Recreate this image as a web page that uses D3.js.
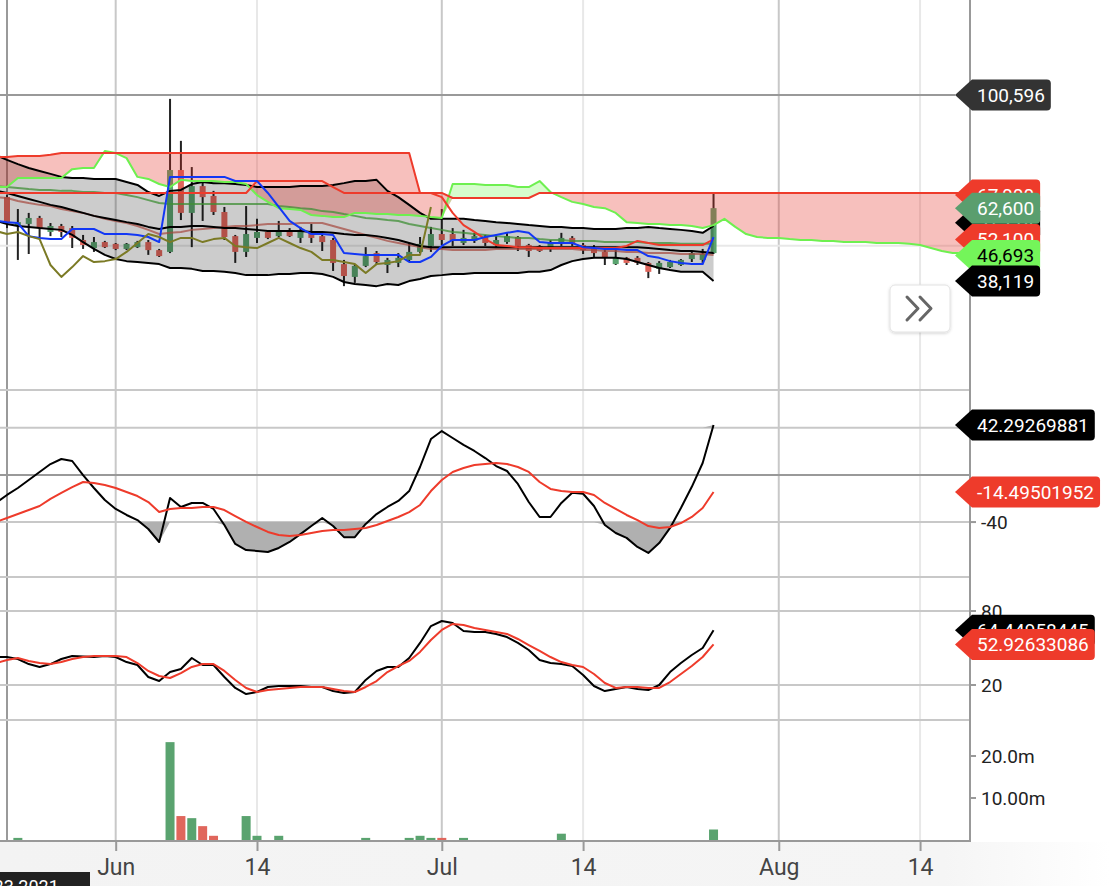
<!DOCTYPE html>
<html><head><meta charset="utf-8">
<script src="https://cdn.jsdelivr.net/npm/d3@7"></script>
<style>
body{margin:0;background:#fff;overflow:hidden}
svg{display:block;font-family:Roboto,"Noto Sans",sans-serif}
</style></head>
<body><svg id="c" width="1110" height="886"></svg>
<script>
// ---------- DATA ----------
const indicatorStart = new Date(2021, 4, 21);   // first day of indicator series
const candleStart = new Date(2021, 4, 22);      // first candle
const opens  = [66300,56600,57300,59300,54600,56600,55900,51900,49200,51200,50600,48900,49500,51200,48500,47900,75400,61000,70000,66700,61300,53200,47900,52600,54600,53200,54900,52600,54300,53200,51900,43800,39500,43200,47500,43500,44200,45200,47900,49900,53900,53900,50900,51600,52900,50200,51200,52900,50200,49900,49500,50600,52600,50200,49500,47900,43800,45900,45900,44200,42200,42800,43500,45500,45200,47500];
const highs  = [67000,62300,61000,60000,57600,57300,56600,53600,52900,51600,50900,50900,51600,51900,48900,99300,85200,76400,71700,68400,63000,53600,63300,59000,54900,58300,55900,56300,57300,53900,52600,45200,43800,49500,48200,45900,47500,50900,52900,56300,62300,55900,55300,54300,53600,53200,54300,53200,50600,50200,51900,54300,53200,50900,50200,48500,48500,46200,46500,44500,44800,45200,45500,48200,48900,67400];
const lows   = [55900,45200,47200,52200,53200,52900,49200,48900,47900,49200,48500,48500,49200,46900,46200,47500,58600,49500,58300,60300,51900,44200,46200,50900,52200,52900,52900,50900,50900,48200,41500,36400,37500,42800,43800,40800,42800,44800,47500,47900,50200,49900,50200,50900,49900,49500,50600,48200,46200,47900,47900,49900,49900,47200,46200,43500,43500,43500,43500,39100,40500,42500,43200,44500,44200,47200];
const closes = [57600,57900,59300,55900,56600,54600,52600,50200,51200,49500,48900,50600,51200,48500,46500,75400,61000,70000,66300,61300,52900,47900,53900,54600,52600,54900,53200,54600,52600,51200,44200,39800,43200,46500,44500,45200,45900,47900,50600,53900,51900,51900,52600,53200,50900,51900,53200,49900,48200,48200,51200,52600,50600,48500,47500,45900,45900,44200,44200,41200,44200,44500,45200,47500,47200,62600];
const volumesM = [0,0.5,0,0,0,0,0,0,0,0,0,0,0,0,0,23.3,5.7,5.2,3.3,1.0,0,0,5.7,1.0,0,1.0,0,0,0,0,0,0,0,0.5,0,0,0,0.5,1.0,0.5,0.5,0,0.5,0,0,0,0,0,0,0,0,1.5,0,0,0,0,0,0,0,0,0,0,0,0,0,2.5];

const bbUpper = [80400,78800,77400,76100,75100,74100,73100,72700,72700,72400,72400,72400,71400,70400,68000,66700,68400,68700,70700,71400,71000,71000,70700,70400,69700,69700,69700,69700,70000,70000,70000,70400,71000,71700,71700,72100,68400,66300,63700,61000,59000,59000,59000,59000,58600,58300,57900,57600,57300,56900,56600,56300,56300,55900,55900,55600,55600,55600,55900,55900,56300,55900,55600,55300,54900,54300,56600];
const bbMiddle = [68400,67700,66700,65700,64700,63700,63000,62000,61000,60000,59300,58600,57900,57300,56300,55600,56300,56300,56600,56600,56300,55900,55900,55600,55300,54900,54900,54900,54900,54600,54600,54300,53900,53600,53600,53200,52600,51900,50900,49900,49500,49500,49500,49500,49500,49500,49500,49500,49500,49500,49500,49500,49500,49500,49500,49500,49500,49500,49500,49500,49200,48900,48500,48200,48200,47900,47500];
const bbLower = [58300,57300,56600,56300,55900,55600,55300,53600,51200,48900,46900,45500,44800,44500,44200,43800,42500,42500,42200,41500,41500,41200,40800,40100,40100,40100,40500,40500,40800,40800,40500,39500,37800,37100,36800,36400,37100,36800,38100,38800,39800,40100,40500,40500,40800,40800,40800,40800,40800,41200,41200,41800,43500,44800,45500,45900,45900,45900,45500,44500,43500,42500,41800,41200,41200,41200,38119];
const tenkan = [58300,57900,57600,53200,52600,52200,52200,55600,55600,55600,53900,53900,53900,53600,52900,51200,73100,73100,73100,73100,73100,73100,71700,71700,71700,67700,63000,58300,55900,53900,53900,53600,47500,47200,46900,46900,46900,46900,44500,44500,46200,49900,51900,51900,51900,52900,53600,54300,54900,54300,51200,50900,50900,50900,49500,49200,48900,48900,48500,48500,46500,45900,44800,44200,43800,43800,52900];
const kijun = [67700,67700,67700,67700,67700,67700,67700,67700,67700,67700,67700,67700,67700,67700,67700,67700,67700,67700,67700,67700,67700,67700,67700,67700,71700,71700,71700,71700,71700,71700,71700,69700,67700,67700,67700,67700,67700,67700,67700,67700,67700,66300,61000,56900,54600,52200,50200,49900,49500,49500,49200,49200,49200,49200,49200,49200,49200,49200,49900,51600,50900,50200,50200,50200,50200,50200,52100];
const senkouA = [69700,69700,72700,72700,72700,72700,72700,75700,76100,76100,81800,81100,79400,73100,72400,70700,69700,72100,71700,71700,71700,71400,71400,70700,67000,64700,62600,62300,62000,60300,60000,59600,59600,61000,61000,60600,60600,60300,60300,60000,59600,59300,70700,70700,70700,70400,70400,70400,69700,69700,71700,68000,66300,64700,64000,63000,62600,61000,57900,57600,57300,57300,56900,56900,56600,55900,56900,59000,56300,53900,52900,52600,52600,52200,51900,51900,51600,51600,51200,51200,51200,50900,50900,50900,50600,50200,49200,48200,47500,47500,47500,47500,47500];
const senkouB = [79800,79800,80100,80100,80100,80500,81100,81100,81100,81100,81100,81100,81100,81100,81100,81100,81100,81100,81100,81100,81100,81100,81100,81100,81100,81100,81100,81100,81100,81100,81100,81100,81100,81100,81100,81100,81100,81100,81100,67700,67700,67700,66000,66000,66000,66000,66000,66000,66000,66000,67700,67700,67700,67700,67700,67700,67700,67700,67700,67700,67700,67700,67700,67700,67700,67700,67700,67700,67700,67700,67700,67700,67700,67700,67700,67700,67700,67700,67700,67700,67700,67700,67700,67700,67700,67700,67700,67700,67700,67700,67700,67700,67700];
const chikou = [54900,53900,54600,53200,52200,43500,39500,42800,46500,44500,44800,45500,47900,50900,53900,52900,51200,52600,52600,51200,52200,52600,49900,49500,49200,50900,52600,50900,49200,47900,45200,45200,44500,43800,40800,43800,44200,44800,46900,46900,63000];
const maGreen = [70000,69700,69400,69000,68700,68700,68400,68400,68000,68000,67700,67700,67000,66300,65300,64300,64000,64000,64000,64000,64000,64000,64000,64000,64000,64000,63300,63000,62600,62300,61600,61300,60600,60000,59300,59000,58600,58300,57300,56600,55900,55300,54600,54300,53900,53600,53200,52900,52600,52600,52200,51900,51900,51600,51600,51600,51200,51200,51200,51200,50900,50900,50900,50600,50600,50600,50600];
const maBrown = [66300,66000,65000,64300,63700,63300,62300,61600,61000,60000,59000,58300,57600,56600,55300,53900,54300,54600,55300,55600,55900,56300,56600,56600,56900,57300,57300,57300,57600,57600,57600,56600,55600,54600,53600,52600,51600,50900,50200,49500,48900,48900,48500,48500,48500,48500,48900,48900,48900,48900,48900,48900,48900,48900,48500,48500,48200,48200,47900,47900,47500,47500,47500,47200,47200,47200,46900];

const cci = [-23.8,-17.0,-11.1,-4.3,2.5,9.2,13.5,11.8,-0.1,-11.1,-21.3,-28.9,-34.0,-38.3,-45.9,-56.9,-19.6,-27.2,-23.8,-23.8,-28.9,-42.5,-58.6,-63.7,-64.5,-65.4,-62.0,-56.9,-50.2,-43.4,-36.6,-43.4,-52.8,-52.8,-41.6,-33.2,-27.2,-22.1,-13.7,6.7,30.4,37.2,31.3,25.4,20.3,14.3,7.5,3.3,-7.7,-23.0,-35.7,-35.7,-23.8,-15.2,-16.0,-26.4,-42.5,-49.3,-53.4,-61.1,-66.2,-57.8,-45.0,-28.1,-10.1,10.1,42.29269881];
const cciSignal = [-39.9,-36.6,-33.2,-29.8,-26.4,-20.4,-15.3,-10.3,-6.0,-6.9,-8.6,-11.1,-14.5,-17.9,-23.0,-31.5,-28.9,-28.1,-28.1,-27.2,-27.2,-29.8,-34.9,-39.9,-44.2,-48.4,-51.0,-51.8,-51.0,-49.3,-47.6,-46.7,-46.7,-45.9,-45.0,-42.5,-39.1,-35.7,-31.5,-25.5,-13.7,-4.3,2.5,5.9,8.4,9.2,10.1,9.2,6.7,2.5,-6.0,-11.9,-13.7,-14.5,-14.5,-17.0,-23.8,-28.9,-34.0,-38.3,-43.4,-45.0,-44.2,-40.8,-35.7,-28.1,-14.49501952];
const stochK = [42.7,42.7,41.1,37.0,34.6,37.0,41.1,43.5,43.1,42.7,43.5,42.7,38.6,36.2,26.5,23.2,30.5,33.0,41.9,36.2,36.2,26.5,17.6,12.7,14.3,18.4,19.2,19.2,19.2,18.4,18.4,15.1,13.5,14.3,24.1,31.4,34.6,34.6,41.9,54.1,67.8,71.9,70.3,63.8,63.0,63.0,61.4,58.9,54.1,48.4,40.3,37.8,37.0,35.4,28.1,19.2,15.1,16.8,18.4,16.8,15.9,20.0,30.5,37.8,44.3,50.0,64.44958445];
const stochD = [37.8,40.3,41.9,39.5,37.8,37.0,38.6,41.1,42.7,43.5,43.5,43.5,42.7,37.8,31.4,27.3,25.7,29.7,34.6,37.0,37.0,31.4,24.1,17.6,14.3,15.9,16.8,17.6,18.4,18.4,18.4,16.8,15.1,14.3,18.4,23.2,30.5,35.4,39.5,46.8,56.5,64.6,69.5,68.6,66.2,64.6,63.0,61.4,57.3,52.4,47.6,42.7,38.6,36.2,34.6,28.9,21.6,17.6,18.4,18.4,17.6,17.6,22.4,28.9,35.4,42.7,52.92633086];

const xTickDates = [new Date(2021,5,1), new Date(2021,5,14), new Date(2021,6,1), new Date(2021,6,14), new Date(2021,7,1), new Date(2021,7,14)];
const xTickLabels = ["Jun","14","Jul","14","Aug","14"];
const cciTicks = [-40];
const stochTicks = [80, 20];
const volTicks = [20, 10];
const volTickLabels = ["20.0m","10.00m"];
const priceTags = [
  {v:100596, text:"100,596", fill:"#333333", color:"#fff"},
  {v:67000,  text:"67,000",  fill:"#ee3b2b", color:"#fff"},
  {v:57700,  text:"57,714",  fill:"#000000", color:"#fff"},
  {v:62600,  text:"62,600",  fill:"#5a9e6e", color:"#fff"},
  {v:52100,  text:"52,100",  fill:"#ee3b2b", color:"#fff"},
  {v:46693,  text:"46,693",  fill:"#74f55a", color:"#000"},
  {v:38119,  text:"38,119",  fill:"#000000", color:"#fff"}
];
const cciTags = [
  {v:42.29269881, text:"42.29269881", fill:"#000", color:"#fff"},
  {v:-14.49501952, text:"-14.49501952", fill:"#ee3b2b", color:"#fff"}
];
const stochTags = [
  {v:64.44958445, text:"64.44958445", fill:"#000", color:"#fff"},
  {v:52.92633086, text:"52.92633086", fill:"#ee3b2b", color:"#fff"}
];
const crosshairDate = "May 23 2021";

// ---------- SCALES ----------
const R = 970;
const x = d3.scaleTime().domain([new Date(2021,4,21), new Date(2021,7,21)]).range([-3.88, 996.16]);
const yP = d3.scaleLinear().domain([0, 100000]).range([394.5, 96.8]);
const yC = d3.scaleLinear().domain([-40, 40]).range([522.06, 427.74]);
const yS = d3.scaleLinear().domain([20, 80]).range([685, 611]);
const yV = d3.scaleLinear().domain([0, 10]).range([840, 798]);
const xi = k => x(d3.timeDay.offset(indicatorStart, k));
const xc = k => x(d3.timeDay.offset(candleStart, k));

const svg = d3.select("#c");
const defs = svg.append("defs");
function clip(id, y0, y1){ defs.append("clipPath").attr("id", id).append("rect").attr("x",0).attr("y",y0).attr("width",R).attr("height",y1-y0); }
clip("cMain", 0, 390); clip("cCci", 390, 577); clip("cSto", 577, 720); clip("cVol", 720, 840);
const gr = defs.append("linearGradient").attr("id","bot").attr("x1","0").attr("x2","1").attr("y1","0").attr("y2","0");
gr.append("stop").attr("offset","0").attr("stop-color","#f3f3f3");
gr.append("stop").attr("offset","0.85").attr("stop-color","#f5f5f5");
gr.append("stop").attr("offset","1").attr("stop-color","#ffffff");
const f = defs.append("filter").attr("id","sh").attr("x","-20%").attr("y","-20%").attr("width","140%").attr("height","140%");
f.append("feDropShadow").attr("dx",0).attr("dy",1).attr("stdDeviation",1.5).attr("flood-color","#000").attr("flood-opacity",0.18);

// bottom strip
svg.append("rect").attr("x",0).attr("y",842).attr("width",1110).attr("height",44).attr("fill","url(#bot)");

// ---------- GRID ----------
const grid = svg.append("g");
xTickDates.forEach(d => {
  const month = d.getDate() === 1;
  grid.append("line").attr("x1", x(d)).attr("x2", x(d)).attr("y1", 0).attr("y2", 840)
    .attr("stroke", month ? "#c8c8c8" : "#e8e8e8").attr("stroke-width", 2);
});
grid.append("line").attr("x1",7).attr("x2",7).attr("y1",0).attr("y2",840).attr("stroke","#9a9a9a").attr("stroke-width",2);
grid.append("line").attr("x1",0).attr("x2",R).attr("y1",yP(50000)).attr("y2",yP(50000)).attr("stroke","#e8e8e8").attr("stroke-width",2);
[[390,"#c8c8c8"],[yC(40),"#c8c8c8"],[yC(0),"#999"],[yC(-40),"#c8c8c8"],[577,"#c8c8c8"],[yS(80),"#c8c8c8"],[yS(20),"#c8c8c8"],[720,"#c8c8c8"]]
  .forEach(([yy,c]) => grid.append("line").attr("x1",0).attr("x2",R).attr("y1",yy).attr("y2",yy).attr("stroke",c).attr("stroke-width",2));

// ---------- MAIN PANEL ----------
const UP = "#5aa36f", DN = "#e0665c";
const main = svg.append("g").attr("clip-path","url(#cMain)");
const cg = main.append("g");
opens.forEach((o,k) => {
  const c = closes[k], cx = xc(k), up = c >= o;
  cg.append("line").attr("x1",cx).attr("x2",cx).attr("y1",yP(highs[k])).attr("y2",yP(lows[k])).attr("stroke","#222").attr("stroke-width",2);
  const y1 = yP(Math.max(o,c)), y2 = yP(Math.min(o,c));
  cg.append("rect").attr("x",cx-3).attr("y",y1).attr("width",6).attr("height",Math.max(1,y2-y1)).attr("fill", up ? UP : DN);
});
// Bollinger fill
main.append("path").datum(bbUpper).attr("fill","rgba(0,0,0,0.2)")
  .attr("d", d3.area().x((d,k)=>xi(k)).y0((d,k)=>yP(bbLower[k])).y1(d=>yP(d)));
// cloud
const cloudPts = senkouA.map((a,k)=>({k, a, b: senkouB[k]}));
main.append("path").datum(cloudPts).attr("fill","rgba(228,48,38,0.3)")
  .attr("d", d3.area().x(d=>xi(d.k)).y0(d=>yP(d.b)).y1(d=>yP(Math.min(d.a,d.b))));
main.append("path").datum(cloudPts).attr("fill","rgba(118,245,90,0.3)")
  .attr("d", d3.area().x(d=>xi(d.k)).y0(d=>yP(d.a)).y1(d=>yP(Math.min(d.a,d.b))));
function line(g, arr, xf, ys, color, w, op){
  g.append("path").datum(arr).attr("fill","none").attr("stroke",color).attr("stroke-width",w||2)
   .attr("stroke-opacity", op||1).attr("stroke-linejoin","round")
   .attr("d", d3.line().x((d,k)=>xf(k)).y(d=>ys(d)));
}
line(main, maGreen, xi, yP, "#3f8f35", 2, 0.75);
line(main, maBrown, xi, yP, "#a5473d", 2, 0.7);
line(main, bbMiddle, xi, yP, "#000");
line(main, bbUpper, xi, yP, "#000");
line(main, bbLower, xi, yP, "#000");
line(main, senkouA, xi, yP, "#6ef050");
line(main, senkouB, xi, yP, "#ee3b2b");
line(main, kijun, xi, yP, "#ee3b2b");
line(main, tenkan, xi, yP, "#1237f5");
line(main, chikou, xi, yP, "#7b7a25");
svg.append("line").attr("x1",0).attr("x2",955).attr("y1",yP(100596)).attr("y2",yP(100596)).attr("stroke","#999").attr("stroke-width",2);

// ---------- CCI ----------
const cg2 = svg.append("g").attr("clip-path","url(#cCci)");
cg2.append("path").datum(cci).attr("fill","#b0b0b0")
  .attr("d", d3.area().x((d,k)=>xi(k)).y0(yC(-40)).y1(d=>yC(Math.min(d,-40))));
cg2.append("path").datum(cci).attr("fill","#b0b0b0")
  .attr("d", d3.area().x((d,k)=>xi(k)).y0(yC(40)).y1(d=>yC(Math.max(d,40))));
line(cg2, cci, xi, yC, "#000");
line(cg2, cciSignal, xi, yC, "#ee3b2b");

// ---------- STOCH ----------
const sg = svg.append("g").attr("clip-path","url(#cSto)");
line(sg, stochK, xi, yS, "#000");
line(sg, stochD, xi, yS, "#ee3b2b");

// ---------- VOLUME ----------
const vg = svg.append("g").attr("clip-path","url(#cVol)");
vg.selectAll("rect").data(volumesM).join("rect")
  .attr("x",(d,k)=>xc(k)-4.5).attr("width",9)
  .attr("y",d=>yV(d)).attr("height",d=>yV(0)-yV(d))
  .attr("fill",(d,k)=> closes[k] >= opens[k] ? UP : DN);

// ---------- AXES ----------
svg.append("line").attr("x1",0).attr("x2",R).attr("y1",841).attr("y2",841).attr("stroke","#999").attr("stroke-width",2);
svg.append("line").attr("x1",R).attr("x2",R).attr("y1",0).attr("y2",842).attr("stroke","#999").attr("stroke-width",2);
const xAxis = d3.axisBottom(x).tickValues(xTickDates).tickSize(10).tickPadding(8)
  .tickFormat((d,i)=>xTickLabels[i]);
const xa = svg.append("g").attr("transform","translate(0,841)").call(xAxis);
xa.select(".domain").remove();
xa.selectAll(".tick line").attr("stroke","#999").attr("stroke-width",2);
xa.selectAll(".tick text").attr("fill","#444").style("font-size","23px").style("font-family","Roboto");

function rightTicks(vals, labels, ys){
  vals.forEach((v,i)=>{
    svg.append("line").attr("x1",R).attr("x2",R+6).attr("y1",ys(v)).attr("y2",ys(v)).attr("stroke","#999").attr("stroke-width",2);
    svg.append("text").attr("x",R+11).attr("y",ys(v)).attr("dy","0.35em").attr("fill","#222")
      .style("font-size","19px").text(labels[i]);
  });
}
rightTicks(cciTicks, cciTicks.map(String), yC);
rightTicks(stochTicks, stochTicks.map(String), yS);
rightTicks(volTicks, volTickLabels, yV);

// ---------- TAGS ----------
function tags(list, ys){
  list.forEach(t=>{
    const cy = ys(t.v), g = svg.append("g");
    const p = g.append("path").attr("fill", t.fill);
    const tx = g.append("text").attr("x",977).attr("y",cy).attr("dy","0.35em").attr("fill",t.color)
      .style("font-size","19px").text(t.text);
    const right = 977 + tx.node().getComputedTextLength() + 6;
    const h = 15.5, r = 4;
    p.attr("d", `M955,${cy} L972,${cy-h} H${right-r} Q${right},${cy-h} ${right},${cy-h+r} V${cy+h-r} Q${right},${cy+h} ${right-r},${cy+h} H972 Z`);
  });
}
tags(priceTags, yP);
tags(cciTags, yC);
tags(stochTags, yS);

// ---------- BUTTON ----------
svg.append("rect").attr("x",890).attr("y",285).attr("width",60).attr("height",47).attr("rx",5)
  .attr("fill","#fff").attr("stroke","#e2e2e2").attr("filter","url(#sh)");
svg.append("path").attr("d","M907,297 L918,308.5 L907,320 M920,297 L931,308.5 L920,320")
  .attr("fill","none").attr("stroke","#666").attr("stroke-width",3).attr("stroke-linecap","round").attr("stroke-linejoin","round");

// ---------- CROSSHAIR DATE ----------
svg.append("rect").attr("x",-76).attr("y",872).attr("width",166).attr("height",30).attr("fill","#222");
svg.append("text").attr("x",7).attr("y",893).attr("text-anchor","middle").attr("fill","#fff")
  .style("font-size","18px").text(crosshairDate);
</script>
</body></html>
